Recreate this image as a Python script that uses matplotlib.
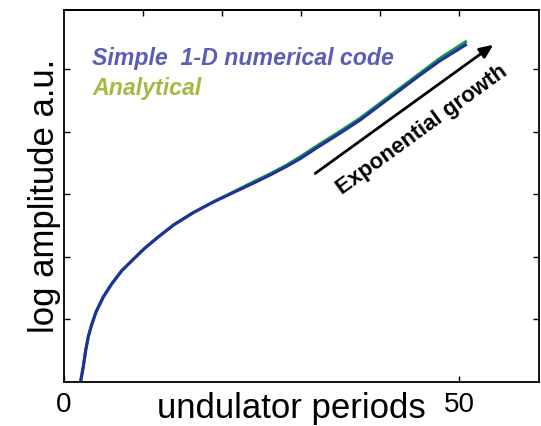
import matplotlib.pyplot as plt

plt.rcParams['font.family'] = ['Liberation Sans', 'DejaVu Sans']

# (x in undulator periods, y in log-amplitude units)
periods = [2.09, 2.44, 2.75, 3.08, 3.51, 4.05, 4.97, 6.04, 7.30, 8.99, 10.13,
           11.73, 13.84, 16.37, 18.90, 21.43, 23.96, 26.08, 28.19, 29.87, 32.41,
           34.94, 37.47, 40.0, 42.53, 45.06, 47.59, 50.8]
numerical = [0.0, 0.245, 0.51, 0.73, 0.92, 1.12, 1.36, 1.57, 1.78, 1.99, 2.13,
             2.30, 2.51, 2.71, 2.88, 3.03, 3.18, 3.31, 3.45, 3.57, 3.78,
             3.98, 4.19, 4.43, 4.67, 4.91, 5.14, 5.39]
analytical = [0.0, 0.245, 0.51, 0.73, 0.92, 1.12, 1.36, 1.57, 1.78, 1.99, 2.13,
              2.30, 2.51, 2.71, 2.88, 3.04, 3.20, 3.33, 3.47, 3.60, 3.81,
              4.01, 4.22, 4.46, 4.70, 4.94, 5.18, 5.44]

fig = plt.figure(figsize=(5.41, 4.26), dpi=100)
ax = fig.add_axes([64 / 541, 1 - 382 / 426, 475 / 541, 372 / 426])

ax.plot(periods, analytical, color='#0a9a48', lw=2.2, solid_joinstyle='round')
ax.plot(periods, numerical, color='#24309a', lw=2.2, solid_joinstyle='round')

ax.set_xlim(0, 60.1)
ax.set_ylim(0, 5.95)

ax.set_xticks([0, 50])
ax.set_xticklabels(['0', '50'], fontsize=20)
ax.set_yticks([1, 2, 3, 4, 5])
ax.set_yticklabels([])
ax.tick_params(direction='in', length=4, width=1, right=True, pad=7)

top = ax.secondary_xaxis('top')
top.set_xticks([10, 20, 30, 40, 50])
top.set_xticklabels([])
top.tick_params(direction='in', length=4, width=1)

for sp in ax.spines.values():
    sp.set_linewidth(1.3)
top.spines['top'].set_linewidth(1.3)

ax.set_xlabel('undulator periods', fontsize=25, va='center')
ax.xaxis.set_label_coords(0.478, -0.072)
ax.set_ylabel('log amplitude a.u.', fontsize=25, va='center')
ax.yaxis.set_label_coords(-0.042, 0.5)

ax.text(0.059, 0.87, 'Simple  1-D numerical code', transform=ax.transAxes,
        fontsize=16.7, fontweight='bold', style='italic', color='#5b5fb3', va='center')
ax.text(0.059, 0.79, 'Analytical', transform=ax.transAxes,
        fontsize=16.7, fontweight='bold', style='italic', color='#a9b845', va='center')

ax.annotate('', xy=(54.6, 5.42), xytext=(31.5, 3.31),
            arrowprops=dict(arrowstyle='-|>,head_length=0.8,head_width=0.35',
                            color='black', lw=2))
ax.text(45.3, 4.03, 'Exponential growth', fontsize=16, fontweight='bold',
        rotation=36, ha='center', va='center', rotation_mode='anchor')

fig.savefig('out.png', dpi=100)
